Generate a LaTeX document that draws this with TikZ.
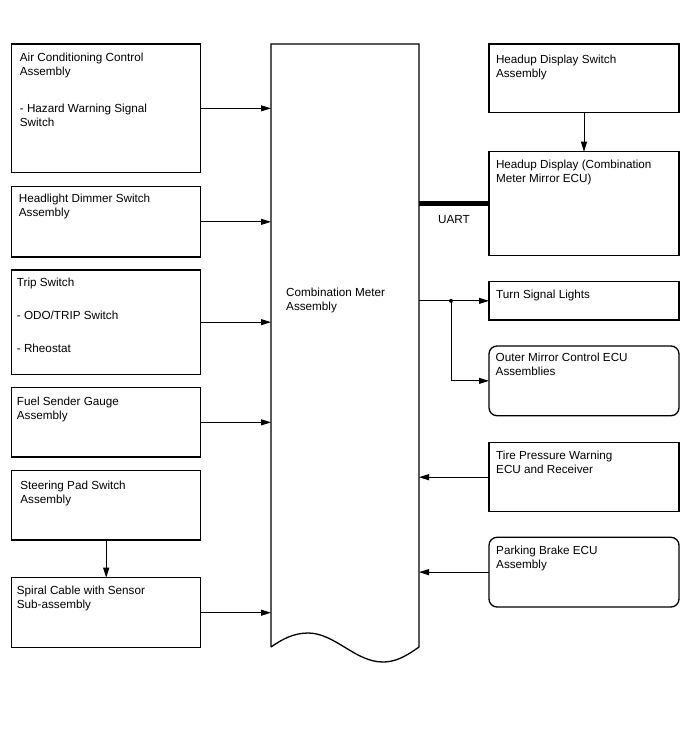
\documentclass[tikz,border=0pt]{standalone}
\usepackage{fontspec}
\setmainfont{Liberation Sans}
\usetikzlibrary{arrows.meta, positioning}

\begin{document}
\begin{tikzpicture}[
        x=1pt, y=-1pt,
        box/.style={draw, rectangle, line width=1.3pt, minimum width=189pt, anchor=north west, inner sep=0pt, outer sep=0pt},
        rbox/.style={box, minimum width=190pt},
        roundbox/.style={rbox, rounded corners=8pt},
        txt/.style={font=\fontsize{11.7}{14}\selectfont, align=left, inner sep=0pt, anchor=north west},
        link/.style={line width=0.9pt, -{Triangle[length=10pt, width=6pt]}},
        node distance=14pt
    ]
        \useasboundingbox (0,0) rectangle (688,755);

        % left column
        \node[box, minimum height=128.7pt, label={[txt, xshift=8pt, yshift=-9pt]north west:{Air Conditioning Control\\Assembly\\[22.7pt]- Hazard Warning Signal\\Switch}}] (ac) at (11.7,44) {};
        \node[box, minimum height=70.3pt, below=14pt of ac, label={[txt, xshift=7pt, yshift=-7.5pt]north west:{Headlight Dimmer Switch\\Assembly}}] (dimmer) {};
        \node[box, minimum height=104.3pt, below=13pt of dimmer, label={[txt, xshift=5pt, yshift=-7.5pt]north west:{Trip Switch\\[19.4pt]- ODO/TRIP Switch\\[18.6pt]- Rheostat}}] (trip) {};
        \node[box, minimum height=69.3pt, below=13.4pt of trip, label={[txt, xshift=5pt, yshift=-9pt]north west:{Fuel Sender Gauge\\Assembly}}] (fuel) {};
        \node[box, minimum height=69.3pt, below=13.7pt of fuel, label={[txt, xshift=8.5pt, yshift=-10pt]north west:{Steering Pad Switch\\Assembly}}] (steer) {};
        \node[box, minimum height=70pt, below=37.7pt of steer, label={[txt, xshift=5pt, yshift=-8.3pt]north west:{Spiral Cable with Sensor\\Sub-assembly}}] (spiral) {};

        % combination meter
        \node[anchor=north west, minimum width=148pt, minimum height=603pt, inner sep=0pt, outer sep=0pt] (meter) at (271,44) {};
        \draw[line width=1.3pt] (meter.south west) -- (meter.north west) -- (meter.north east) -- (meter.south east)
            .. controls (405,657) and (395,662) .. (383,662)
            .. controls (355,662) and (335,633) .. (308,633)
            .. controls (293,633) and (281,640) .. (meter.south west);
        \node[txt] (meterText) at (286,288.3) {Combination Meter\\Assembly};

        % right column
        \node[rbox, minimum height=68.7pt, label={[txt, xshift=6.8pt, yshift=-10.5pt]north west:{Headup Display Switch\\Assembly}}] (hudsw) at (489,44) {};
        \node[rbox, minimum height=104pt, below=39pt of hudsw, label={[txt, xshift=6.8pt, yshift=-8.3pt]north west:{Headup Display (Combination\\Meter Mirror ECU)}}] (hud) {};
        \node[rbox, minimum height=38.3pt, below=26pt of hud, label={[txt, xshift=7pt, yshift=-7.7pt]north west:{Turn Signal Lights}}] (turn) {};
        \node[roundbox, minimum height=69.7pt, below=26pt of turn, label={[txt, xshift=6.5pt, yshift=-7.3pt]north west:{Outer Mirror Control ECU\\Assemblies}}] (mirror) {};
        \node[rbox, minimum height=69pt, below=27pt of mirror, label={[txt, xshift=7pt, yshift=-8pt]north west:{Tire Pressure Warning\\ECU and Receiver}}] (tire) {};
        \node[roundbox, minimum height=69.7pt, below=25.6pt of tire, label={[txt, xshift=7pt, yshift=-8.3pt]north west:{Parking Brake ECU\\Assembly}}] (parking) {};

        % inputs to the meter
        \draw[link] (ac.east) -- (ac.east -| meter.west);
        \draw[link] (dimmer.east) -- (dimmer.east -| meter.west);
        \draw[link] (trip.east) -- (trip.east -| meter.west);
        \draw[link] (fuel.east) -- (fuel.east -| meter.west);
        \draw[link] (spiral.east) -- (spiral.east -| meter.west);
        \draw[link] (steer.south) -- (spiral.north);
        \draw[link] (hudsw.south) -- (hud.north);
        \draw[link] (tire.west) -- (tire.west -| meter.east);
        \draw[link] (parking.west) -- (parking.west -| meter.east);

        % UART bus
        \draw[line width=5pt] (hud.west -| meter.east) -- (hud.west) node[txt, midway, below=9pt] (uart) {UART};

        % turn signal outputs
        \path (turn.west -| meter.east) ++(32,0) coordinate (split);
        \draw[line width=0.9pt] (turn.west -| meter.east) -- (split);
        \draw[link] (split) -- (turn.west);
        \draw[link] (split) |- (mirror.west);
        \fill (split) circle (2pt);
    \end{tikzpicture}
\end{document}
